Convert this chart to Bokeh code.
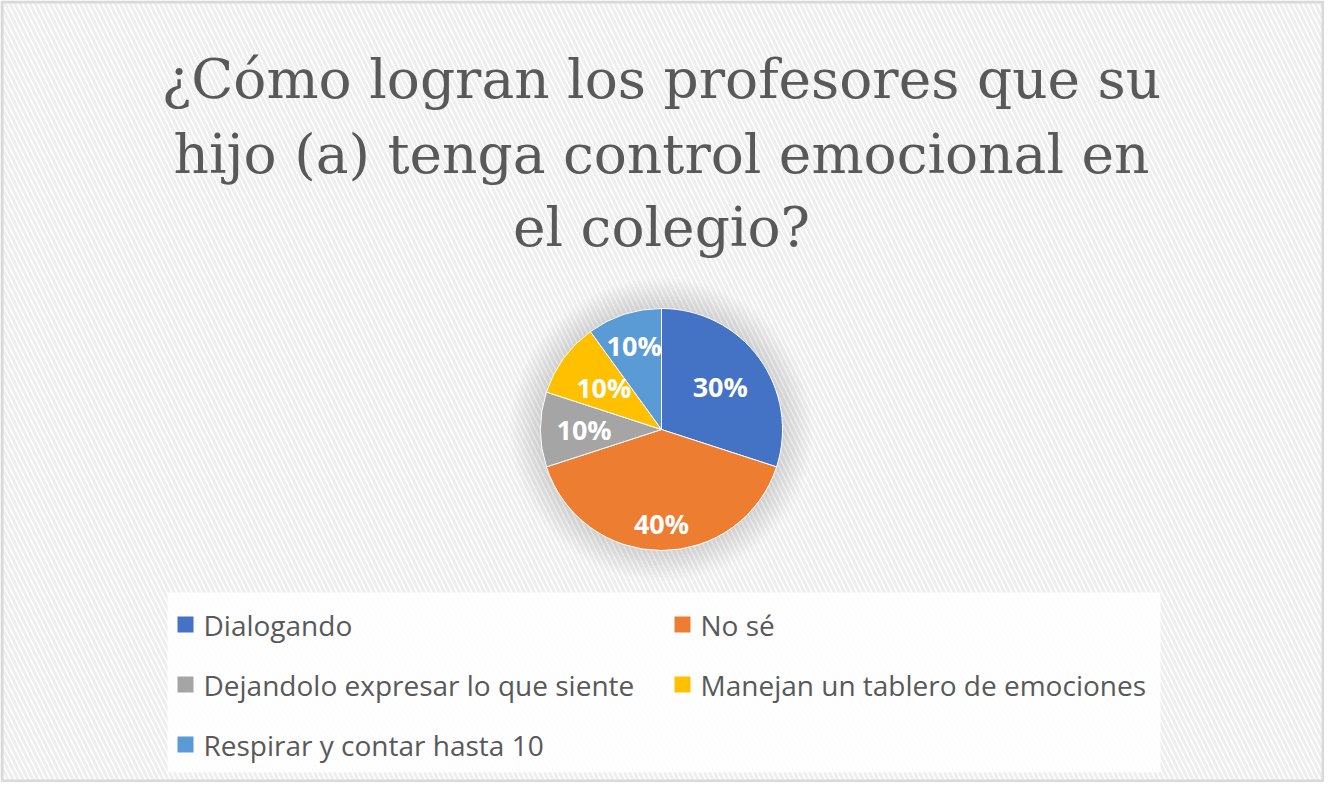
import numpy as np
from bokeh.plotting import figure, ColumnDataSource
from bokeh.models import Range1d
from bokeh.core.properties import value
from bokeh.embed import file_html
from bokeh.resources import INLINE

# ---- data ----
categories = ["Dialogando", "No sé", "Dejandolo expresar lo que siente",
              "Manejan un tablero de emociones", "Respirar y contar hasta 10"]
shares = [0.30, 0.40, 0.10, 0.10, 0.10]
colors = ["#4472C4", "#ED7D31", "#A5A5A5", "#FFC000", "#5B9BD5"]
title_lines = ["¿Cómo logran los profesores que su",
               "hijo (a) tenga control emocional en",
               "el colegio?"]

# ---- layout (pixels) ----
W, H = 1324, 782
cx, cy, R = 661, 353, 121
label_r = [0.60, 0.78, 0.64, 0.59, 0.73]
TEXT = "#595959"

p = figure(width=W, height=H, x_range=Range1d(0, W), y_range=Range1d(0, H),
           output_backend="svg", toolbar_location=None, min_border=0)
p.axis.visible = False
p.grid.visible = False
p.outline_line_color = None
p.background_fill_color = "white"
p.border_fill_color = "white"

# hatched background
p.quad(left=0, right=W, bottom=0, top=H, fill_color="white", line_color=None,
       hatch_pattern="left_diagonal_line", hatch_color="#eeeeee",
       hatch_scale=10, hatch_weight=3)
# outer border
p.quad(left=1.5, right=W - 1.5, bottom=1.5, top=H - 1.5, fill_color=None,
       line_color="#d9d9d9", line_width=3)

# title
tsrc = ColumnDataSource(dict(x=[cx] * 3, y=[704, 629, 556], t=title_lines))
p.text(x="x", y="y", text="t", source=tsrc, text_color=TEXT,
       text_font=value("DejaVu Serif"), text_font_size="55px",
       text_align="center", text_baseline="alphabetic")

# soft glow behind pie
for k in range(30, 0, -3):
    p.circle(x=cx, y=cy, radius=R + k, fill_color="#7f7f7f", fill_alpha=0.022,
             line_color=None)

# pie
vals = np.array(shares)
cum = np.concatenate([[0], np.cumsum(vals)]) / vals.sum()
starts = np.pi / 2 - 2 * np.pi * cum[1:]
ends = np.pi / 2 - 2 * np.pi * cum[:-1]
mids = (starts + ends) / 2
src = ColumnDataSource(dict(start=starts, end=ends, color=colors, cat=categories))
p.wedge(x=cx, y=cy, radius=R, start_angle="start", end_angle="end",
        fill_color="color", line_color="white", line_width=1, source=src)

lx = cx + np.array(label_r) * R * np.cos(mids)
ly = cy + np.array(label_r) * R * np.sin(mids)
labels = [f"{round(v * 100)}%" for v in vals / vals.sum()]
lsrc = ColumnDataSource(dict(x=lx, y=ly, t=labels))
p.text(x="x", y="y", text="t", source=lsrc, text_color="white",
       text_font=value("Open Sans"), text_font_style="bold", text_font_size="27px",
       text_align="center", text_baseline="middle")

# legend box
p.quad(left=167, right=1160, bottom=10, top=190, fill_color="white",
       fill_alpha=0.85, line_color=None)

col_sq = [177, 674]
col_tx = [203, 700]
row_y = [158, 98, 38]
sq_x, sq_y, tx_x, tx_y = [], [], [], []
for i in range(len(categories)):
    r, c = divmod(i, 2)
    sq_x.append(col_sq[c] + 8)
    sq_y.append(row_y[r])
    tx_x.append(col_tx[c])
    tx_y.append(row_y[r])
gsrc = ColumnDataSource(dict(sx=sq_x, sy=sq_y, tx=tx_x, ty=tx_y, t=categories, color=colors))
p.rect(x="sx", y="sy", width=16, height=16, fill_color="color", line_color=None, source=gsrc)
p.text(x="tx", y="ty", text="t", source=gsrc, text_color=TEXT,
       text_font=value("Open Sans"), text_font_size="28px",
       text_align="left", text_baseline="middle")

open("out.html", "w").write(file_html(p, INLINE))
